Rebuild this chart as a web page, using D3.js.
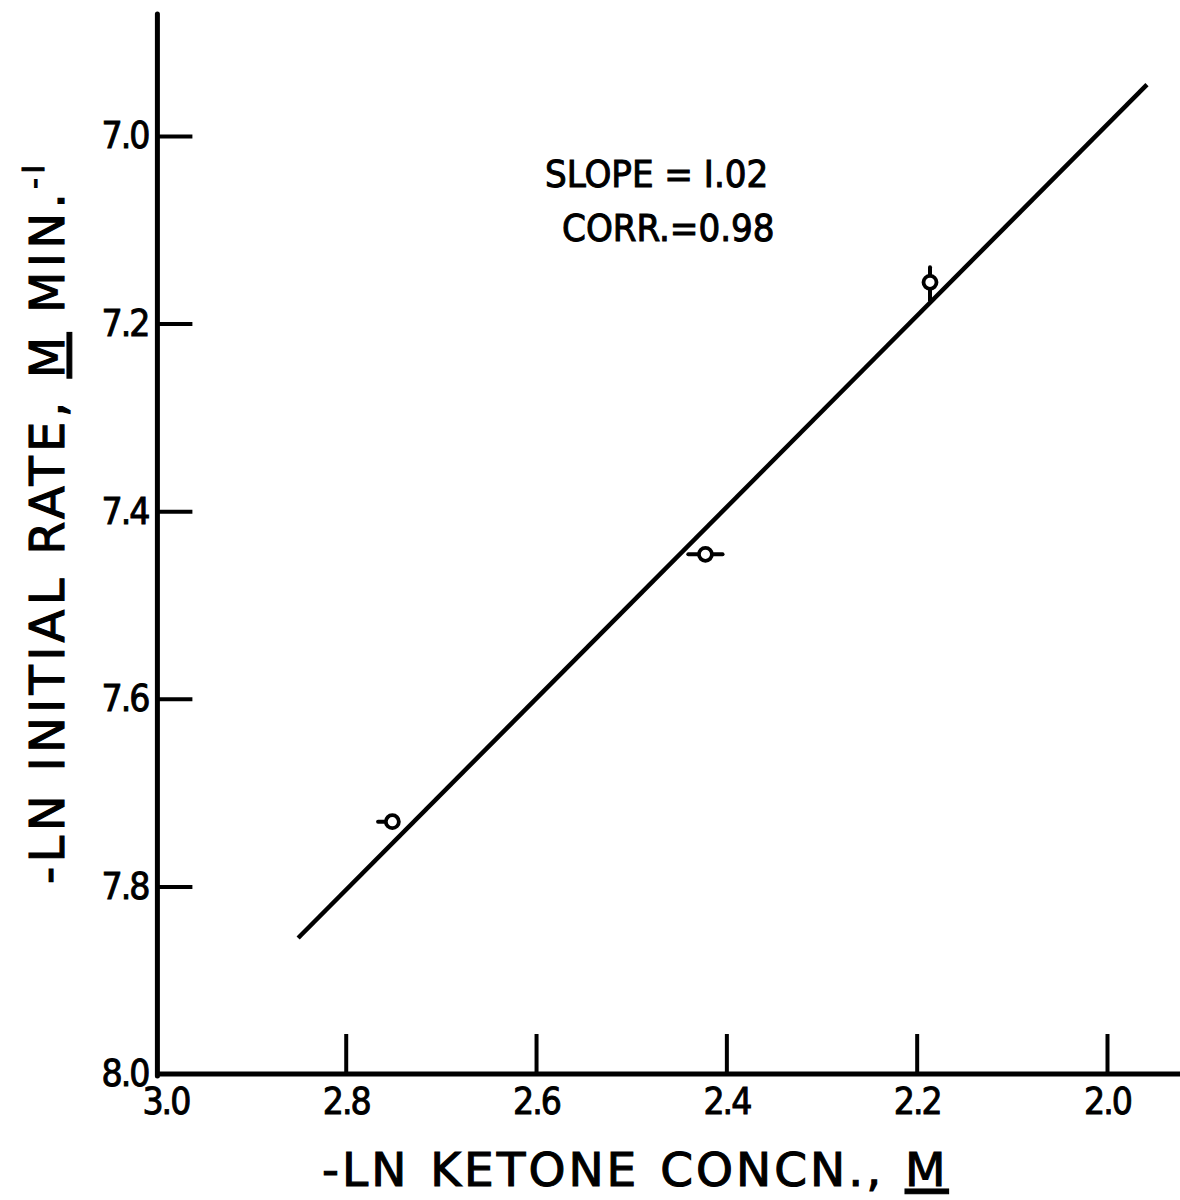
<!DOCTYPE html>
<html>
<head>
<meta charset="utf-8">
<script src="https://cdn.jsdelivr.net/npm/d3@7/dist/d3.min.js"></script>
<style>
  html, body { margin: 0; padding: 0; background: #fff; }
  svg { display: block; }
  text { font-family: "DejaVu Sans", "Liberation Sans", sans-serif; fill: #000; stroke: #000; }
</style>
</head>
<body>
<svg id="chart" width="1180" height="1200"></svg>
<script>
// Measured points: -ln ketone concentration (M) vs -ln initial rate (M/min)
const lnKetone = [2.751, 2.422, 2.186];
const lnRate = [7.731, 7.446, 7.156];
// Error bar extents for each point: toward larger / smaller x, and up / down in y
const errXHigh = [0.015, 0.018, 0];
const errXLow = [0, 0.018, 0];
const errYLow = [0, 0, 0.016];
const errYHigh = [0, 0, 0.019];
// Least-squares line (slope 1.02) drawn between these x values
const fitX = [2.85, 1.958];
const fitSlope = 1.02;
const fitY0 = 7.855; // value at fitX[0]
// Axis ticks
const xTicks = [3.0, 2.8, 2.6, 2.4, 2.2, 2.0];
const yTicks = [7.0, 7.2, 7.4, 7.6, 7.8, 8.0];
const notes = ["SLOPE = I.02", "CORR.=0.98"];

const svg = d3.select("#chart");

// Reversed x axis: larger -ln values to the left
const x = d3.scaleLinear().domain([3.0, 2.0]).range([155.4, 1107]);
// y grows downward: 7.0 near top, 8.0 at the bottom
const y = d3.scaleLinear().domain([7.0, 8.0]).range([136, 1074]);

const xLeft = x(3.0), xRight = 1180;
const yTop = 14, yBottom = y(8.0);

// Axis frame lines
svg.append("line")
  .attr("x1", xLeft + 2).attr("x2", xLeft + 2)
  .attr("y1", yTop).attr("y2", yBottom + 2)
  .attr("stroke", "#000").attr("stroke-width", 5).attr("stroke-linecap", "round");
svg.append("line")
  .attr("x1", xLeft).attr("x2", xRight)
  .attr("y1", yBottom).attr("y2", yBottom)
  .attr("stroke", "#000").attr("stroke-width", 5);

// Y axis: inward ticks, labels to the left
const yAxis = d3.axisLeft(y)
  .tickValues(yTicks)
  .tickFormat(d3.format(".1f"))
  .tickSizeInner(-37)
  .tickSizeOuter(0)
  .tickPadding(7);
const gy = svg.append("g").attr("transform", `translate(${xLeft},0)`).call(yAxis);
gy.select(".domain").remove();
gy.selectAll(".tick line").attr("stroke", "#000").attr("stroke-width", 4)
  .filter(d => d === 8.0).remove();
gy.selectAll(".tick text")
  .attr("font-size", 37).attr("font-family", "DejaVu Sans")
  .style("font-stretch", "condensed")
  .attr("letter-spacing", -2)
  .attr("fill", "#000").attr("stroke", "#000").attr("stroke-width", 0.9);

// X axis: inward ticks, labels below
const xAxis = d3.axisBottom(x)
  .tickValues(xTicks)
  .tickFormat(d3.format(".1f"))
  .tickSizeInner(-40)
  .tickSizeOuter(0)
  .tickPadding(14);
const gx = svg.append("g").attr("transform", `translate(0,${yBottom})`).call(xAxis);
gx.select(".domain").remove();
gx.selectAll(".tick line").attr("stroke", "#000").attr("stroke-width", 4)
  .filter(d => d === 3.0).remove();
gx.selectAll(".tick text")
  .attr("font-size", 37).attr("font-family", "DejaVu Sans")
  .style("font-stretch", "condensed")
  .attr("letter-spacing", -2)
  .attr("fill", "#000").attr("stroke", "#000").attr("stroke-width", 0.9)
  .attr("dx", d => d === 3.0 ? 10 : 0);

// Fitted line
const fitData = fitX.map(v => [v, fitY0 - fitSlope * (fitX[0] - v)]);
svg.append("path")
  .datum(fitData)
  .attr("d", d3.line().x(d => x(d[0])).y(d => y(d[1])))
  .attr("fill", "none").attr("stroke", "#000").attr("stroke-width", 4.5);

// Error bars
const pts = lnKetone.map((v, i) => ({
  x: v, y: lnRate[i],
  xh: errXHigh[i], xl: errXLow[i], yl: errYLow[i], yh: errYHigh[i]
}));
const gp = svg.append("g");
gp.selectAll("line.ex").data(pts.filter(p => p.xh + p.xl > 0)).join("line")
  .attr("class", "ex")
  .attr("x1", p => x(p.x + p.xh)).attr("x2", p => x(p.x - p.xl))
  .attr("y1", p => y(p.y)).attr("y2", p => y(p.y))
  .attr("stroke", "#000").attr("stroke-width", 4).attr("stroke-linecap", "round");
gp.selectAll("line.ey").data(pts.filter(p => p.yl + p.yh > 0)).join("line")
  .attr("class", "ey")
  .attr("x1", p => x(p.x)).attr("x2", p => x(p.x))
  .attr("y1", p => y(p.y - p.yl)).attr("y2", p => y(p.y + p.yh))
  .attr("stroke", "#000").attr("stroke-width", 4).attr("stroke-linecap", "round");
// Open circle markers
gp.selectAll("circle").data(pts).join("circle")
  .attr("cx", p => x(p.x)).attr("cy", p => y(p.y)).attr("r", 6.5)
  .attr("fill", "#fff").attr("stroke", "#000").attr("stroke-width", 3.8);

// Fit statistics
svg.append("text").attr("x", 545).attr("y", 187)
  .attr("font-size", 38).style("font-stretch", "condensed")
  .attr("stroke-width", 1)
  .text(notes[0]);
svg.append("text").attr("x", 562).attr("y", 241)
  .attr("font-size", 38).style("font-stretch", "condensed")
  .attr("stroke-width", 1)
  .text(notes[1]);

// X axis title with underlined unit
const xt = svg.append("text").attr("x", 322).attr("y", 1186)
  .attr("font-size", 47).attr("letter-spacing", 3).attr("word-spacing", 3)
  .attr("stroke-width", 1.1);
xt.append("tspan").text("-LN KETONE CONCN.,  ");
xt.append("tspan").attr("text-decoration", "underline").text("M");

// Y axis title, rotated
const yt = svg.append("text")
  .attr("transform", "translate(64,884) rotate(-90)")
  .attr("font-size", 48).attr("letter-spacing", 4.3)
  .attr("stroke-width", 1.1);
yt.append("tspan").text("-LN INITIAL RATE, ");
yt.append("tspan").attr("text-decoration", "underline").text("M");
yt.append("tspan").text(" MIN.");
yt.append("tspan").attr("font-size", 30).attr("dy", -20).text("-I");
</script>
</body>
</html>
